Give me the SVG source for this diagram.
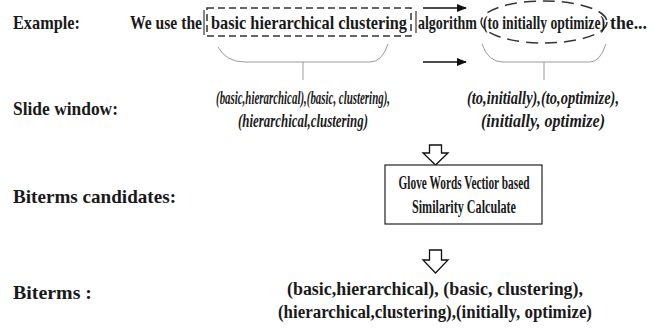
<svg xmlns="http://www.w3.org/2000/svg" width="654" height="331" viewBox="0 0 654 331">
<defs>
<style>
.t{font-family:'Liberation Serif','Tinos','Noto Serif','DejaVu Serif','Times New Roman',Times,serif;font-weight:700;fill:#1a1a1a;font-size:19px}
.i{font-style:italic;font-size:18px}
.B{font-size:18px}
.m{text-anchor:middle}
.br{fill:none;stroke:#9a9a9a;stroke-width:1}
.ar{fill:none;stroke:#111;stroke-width:1.5}
.ha{fill:#fff;stroke:#111;stroke-width:1.3}
</style>
<marker id="ah" markerWidth="10" markerHeight="8" refX="9" refY="4" orient="auto" markerUnits="userSpaceOnUse">
<path d="M0,0 L10,4 L0,8 Z" fill="#111"/>
</marker>
</defs>
<rect width="654" height="331" fill="#fff"/>

<g id="labels">
<text class="t" x="13" y="29" textLength="67" lengthAdjust="spacingAndGlyphs">Example:</text>
<text class="t" x="13" y="115" textLength="105" lengthAdjust="spacingAndGlyphs">Slide window:</text>
<text class="t" x="13" y="203" textLength="163" lengthAdjust="spacingAndGlyphs">Biterms candidates:</text>
<text class="t" x="13" y="299" textLength="79" lengthAdjust="spacingAndGlyphs">Biterms :</text>
</g>

<g id="sentence">
<line x1="204" y1="10" x2="204" y2="35" stroke="#111" stroke-width="1"/>
<rect x="207" y="8" width="204" height="28" fill="none" stroke="#333" stroke-width="1.5" stroke-dasharray="7,4"/>
<line x1="416" y1="11" x2="416" y2="33" stroke="#111" stroke-width="1"/>
<ellipse cx="544" cy="22" rx="63" ry="21" fill="none" stroke="#333" stroke-width="1.5" stroke-dasharray="12,7"/>
<text class="t" y="29"><tspan x="130" textLength="72" lengthAdjust="spacingAndGlyphs">We use the</tspan><tspan x="211" textLength="196" lengthAdjust="spacingAndGlyphs">basic hierarchical clustering</tspan><tspan x="418" textLength="59" lengthAdjust="spacingAndGlyphs">algorithm</tspan><tspan x="483" textLength="122" lengthAdjust="spacingAndGlyphs">(to initially optimize)</tspan><tspan x="610" textLength="37" lengthAdjust="spacingAndGlyphs">the...</tspan></text>
</g>

<g id="connectors">
<line class="ar" x1="423" y1="8" x2="466" y2="8" marker-end="url(#ah)"/>
<line class="ar" x1="423" y1="62" x2="466" y2="62" marker-end="url(#ah)"/>
<path class="br" d="M218,47 Q226,62 245,62 L370,62 Q382,62 388,44"/>
<line class="br" x1="303" y1="62" x2="303" y2="80"/>
<path class="br" d="M482,44 Q488,62 503,62 L590,62 Q600,62 606,44"/>
<line class="br" x1="544" y1="62" x2="544" y2="80"/>
<path class="ha" d="M429.5,145 L441.5,145 L441.5,153 L448,153 L435.5,165 L423,153 L429.5,153 Z"/>
<path class="ha" d="M429.5,250 L441.5,250 L441.5,260 L448,260 L435.5,273 L423,260 L429.5,260 Z"/>
</g>

<g id="slide-left">
<text class="t i m" x="303" y="104" textLength="174" lengthAdjust="spacingAndGlyphs">(basic,hierarchical),(basic, clustering),</text>
<text class="t i m" x="303" y="127" textLength="130" lengthAdjust="spacingAndGlyphs">(hierarchical,clustering)</text>
</g>

<g id="slide-right">
<text class="t i m" x="543" y="104" textLength="152" lengthAdjust="spacingAndGlyphs">(to,initially),(to,optimize),</text>
<text class="t i m" x="543" y="127" textLength="124" lengthAdjust="spacingAndGlyphs">(initially, optimize)</text>
</g>

<g id="similarity-box">
<rect x="385" y="165" width="157" height="59" fill="#fff" stroke="#222" stroke-width="1.2"/>
<text class="t B m" x="464" y="189" textLength="131" lengthAdjust="spacingAndGlyphs">Glove Words Vectior based</text>
<text class="t B m" x="464" y="213" textLength="104" lengthAdjust="spacingAndGlyphs">Similarity Calculate</text>
</g>

<g id="biterms">
<text class="t B m" x="435" y="295" textLength="296" lengthAdjust="spacingAndGlyphs">(basic,hierarchical), (basic, clustering),</text>
<text class="t B m" x="435" y="318" textLength="314" lengthAdjust="spacingAndGlyphs">(hierarchical,clustering),(initially, optimize)</text>
</g>
</svg>
